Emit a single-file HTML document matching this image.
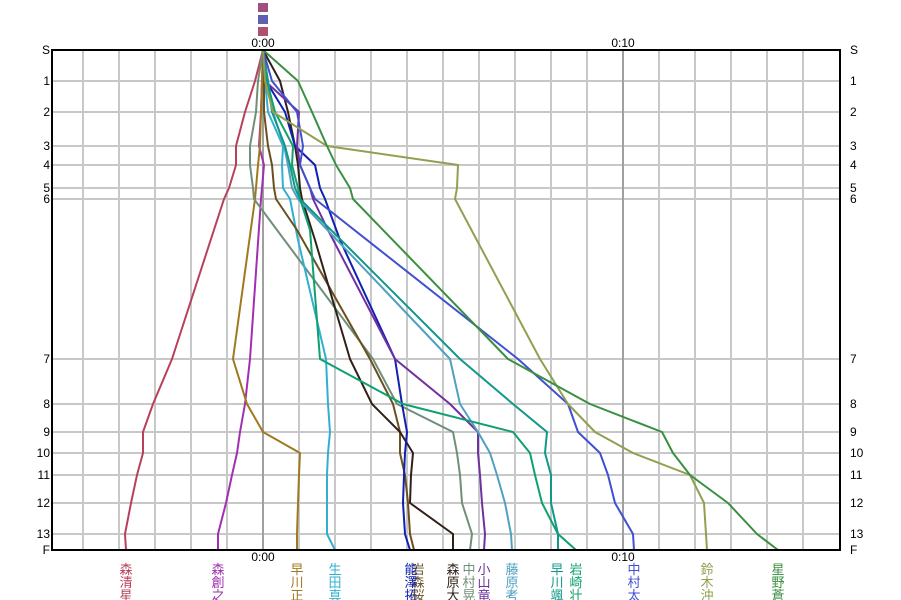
<!DOCTYPE html>
<html><head><meta charset="utf-8"><style>
html,body{margin:0;padding:0;background:#fff;}
svg{display:block;}
text{font-family:"Liberation Sans","Noto Sans CJK JP",sans-serif;}
</style></head><body>
<svg width="901" height="600" viewBox="0 0 901 600" xmlns="http://www.w3.org/2000/svg">
<g stroke="#c8c8c8" stroke-width="2">
<line x1="83" y1="50" x2="83" y2="550"/><line x1="119" y1="50" x2="119" y2="550"/><line x1="155" y1="50" x2="155" y2="550"/><line x1="191" y1="50" x2="191" y2="550"/><line x1="227" y1="50" x2="227" y2="550"/>
<line x1="299" y1="50" x2="299" y2="550"/><line x1="335" y1="50" x2="335" y2="550"/><line x1="371" y1="50" x2="371" y2="550"/><line x1="407" y1="50" x2="407" y2="550"/><line x1="443" y1="50" x2="443" y2="550"/><line x1="479" y1="50" x2="479" y2="550"/><line x1="515" y1="50" x2="515" y2="550"/><line x1="551" y1="50" x2="551" y2="550"/><line x1="587" y1="50" x2="587" y2="550"/>
<line x1="659" y1="50" x2="659" y2="550"/><line x1="695" y1="50" x2="695" y2="550"/><line x1="731" y1="50" x2="731" y2="550"/><line x1="767" y1="50" x2="767" y2="550"/><line x1="803" y1="50" x2="803" y2="550"/>
<line x1="52" y1="81" x2="840" y2="81"/><line x1="52" y1="112" x2="840" y2="112"/><line x1="52" y1="146" x2="840" y2="146"/><line x1="52" y1="165" x2="840" y2="165"/><line x1="52" y1="188" x2="840" y2="188"/><line x1="52" y1="199" x2="840" y2="199"/><line x1="52" y1="359" x2="840" y2="359"/><line x1="52" y1="404" x2="840" y2="404"/><line x1="52" y1="432" x2="840" y2="432"/><line x1="52" y1="453" x2="840" y2="453"/><line x1="52" y1="475" x2="840" y2="475"/><line x1="52" y1="503" x2="840" y2="503"/><line x1="52" y1="534" x2="840" y2="534"/>
</g>
<g stroke="#a0a0a0" stroke-width="2"><line x1="263" y1="50" x2="263" y2="550"/><line x1="623" y1="50" x2="623" y2="550"/></g>
<g fill="none" stroke-width="2" stroke-linejoin="round">
<polyline stroke="#b8405a" points="263,50 255,81 245,112 236,146 236,165 229,188 224,199 172,359 153,404 143,432 143,453 137,475 131,503 125,534 126,550"/>
<polyline stroke="#a030b0" points="263,50 262,81 261,112 259,146 264,165 262,188 261,199 250,359 245,404 240,432 237,453 232,475 226,503 218,534 218,550"/>
<polyline stroke="#a07820" points="263,50 262,81 261,112 260,146 258,165 256,188 255,199 233,359 247,404 263,432 300,453 299,475 298,503 297,534 297,550"/>
<polyline stroke="#708f78" points="263,50 258,81 256,112 250,146 250,165 253,188 254,199 277,230 373,359 397,404 453,432 457,453 460,475 462,503 472,534 470,550"/>
<polyline stroke="#30b0d0" points="263,50 265,81 268,112 283,146 282,165 283,188 290,199 298,240 326,359 328,404 330,432 328,453 327,475 327,503 327,534 335,550"/>
<polyline stroke="#6a5020" points="263,50 264,81 264,112 268,146 272,165 274,188 276,199 297,230 370,359 393,404 400,432 400,453 405,475 408,503 410,534 414,550"/>
<polyline stroke="#302018" points="263,50 280,81 288,112 295,146 298,165 300,188 302,199 315,240 350,359 372,404 400,432 413,453 411,475 410,503 453,534 453,550"/>
<polyline stroke="#1020b0" points="263,50 266,81 285,112 295,146 315,165 320,188 325,199 340,240 395,359 402,404 407,432 405,453 404,475 403,503 405,534 410,550"/>
<polyline stroke="#7030a0" points="263,50 265,81 299,112 297,146 300,165 310,188 313,199 328,230 395,359 450,404 478,432 478,453 480,475 482,503 485,534 484,550"/>
<polyline stroke="#50a0c0" points="263,50 268,81 273,112 284,146 288,165 292,188 298,199 450,359 460,404 478,432 490,453 497,475 505,503 511,534 512,550"/>
<polyline stroke="#10a070" points="263,50 267,81 275,112 293,146 292,165 298,188 300,199 310,230 320,359 403,404 513,432 530,453 535,475 542,503 558,534 576,550"/>
<polyline stroke="#109888" points="263,50 268,81 272,112 285,146 290,165 295,188 300,199 460,359 513,404 547,432 545,453 551,475 551,503 558,534 558,550"/>
<polyline stroke="#4050d0" points="263,50 272,81 297,112 303,146 300,165 310,188 315,199 518,359 568,404 578,432 600,453 608,475 615,503 633,534 634,550"/>
<polyline stroke="#90a050" points="263,50 265,81 273,112 327,146 458,165 457,188 455,199 540,359 568,404 595,432 633,453 690,475 704,503 706,534 707,550"/>
<polyline stroke="#3a9040" points="263,50 298,81 312,112 327,146 336,165 350,188 353,199 508,359 590,404 662,432 673,453 690,475 728,503 757,534 778,550"/>
</g>
<rect x="52" y="50" width="788" height="500" fill="none" stroke="#000" stroke-width="2"/>
<g font-size="12" fill="#000">
<text x="263" y="47" text-anchor="middle">0:00</text><text x="623" y="47" text-anchor="middle">0:10</text>
<text x="263" y="561" text-anchor="middle">0:00</text><text x="623" y="561" text-anchor="middle">0:10</text>
</g>
<g font-size="12" fill="#000" text-anchor="end">
<text x="50" y="54">S</text><text x="50" y="85">1</text><text x="50" y="116">2</text><text x="50" y="150">3</text><text x="50" y="169">4</text><text x="50" y="192">5</text><text x="50" y="203">6</text><text x="50" y="363">7</text><text x="50" y="408">8</text><text x="50" y="436">9</text><text x="50" y="457">10</text><text x="50" y="479">11</text><text x="50" y="507">12</text><text x="50" y="538">13</text><text x="50" y="554">F</text>
</g>
<g font-size="12" fill="#000">
<text x="850" y="54">S</text><text x="850" y="85">1</text><text x="850" y="116">2</text><text x="850" y="150">3</text><text x="850" y="169">4</text><text x="850" y="192">5</text><text x="850" y="203">6</text><text x="850" y="363">7</text><text x="850" y="408">8</text><text x="850" y="436">9</text><text x="850" y="457">10</text><text x="850" y="479">11</text><text x="850" y="507">12</text><text x="850" y="538">13</text><text x="850" y="554">F</text>
</g>
<g>
<rect x="258" y="3" width="10" height="9" fill="#a05080"/><rect x="258" y="15" width="10" height="9" fill="#6060b0"/><rect x="258" y="27" width="10" height="9" fill="#b05070"/>
</g>
<g font-size="13" text-anchor="middle">
<text x="126" y="574" fill="#b8405a">森</text><text x="126" y="587" fill="#b8405a">清</text><text x="126" y="600" fill="#b8405a">星</text>
<text x="218" y="574" fill="#a030b0">森</text><text x="218" y="587" fill="#a030b0">創</text><text x="218" y="600" fill="#a030b0">之</text>
<text x="297" y="574" fill="#a07820">早</text><text x="297" y="587" fill="#a07820">川</text><text x="297" y="600" fill="#a07820">正</text>
<text x="335" y="574" fill="#30b0d0">生</text><text x="335" y="587" fill="#30b0d0">田</text><text x="335" y="600" fill="#30b0d0">真</text>
<text x="418" y="574" fill="#6a5020">岩</text><text x="418" y="587" fill="#6a5020">森</text><text x="418" y="600" fill="#6a5020">桜</text>
<text x="411" y="574" fill="#1020b0">能</text><text x="411" y="587" fill="#1020b0">澤</text><text x="411" y="600" fill="#1020b0">拓</text>
<text x="453" y="574" fill="#302018">森</text><text x="453" y="587" fill="#302018">原</text><text x="453" y="600" fill="#302018">大</text>
<text x="469" y="574" fill="#708f78">中</text><text x="469" y="587" fill="#708f78">村</text><text x="469" y="600" fill="#708f78">晃</text>
<text x="484" y="574" fill="#7030a0">小</text><text x="484" y="587" fill="#7030a0">山</text><text x="484" y="600" fill="#7030a0">竜</text>
<text x="512" y="574" fill="#50a0c0">藤</text><text x="512" y="587" fill="#50a0c0">原</text><text x="512" y="600" fill="#50a0c0">考</text>
<text x="557" y="574" fill="#109888">早</text><text x="557" y="587" fill="#109888">川</text><text x="557" y="600" fill="#109888">颯</text>
<text x="576" y="574" fill="#10a070">岩</text><text x="576" y="587" fill="#10a070">崎</text><text x="576" y="600" fill="#10a070">壮</text>
<text x="634" y="574" fill="#4050d0">中</text><text x="634" y="587" fill="#4050d0">村</text><text x="634" y="600" fill="#4050d0">太</text>
<text x="707" y="574" fill="#90a050">鈴</text><text x="707" y="587" fill="#90a050">木</text><text x="707" y="600" fill="#90a050">沖</text>
<text x="778" y="574" fill="#3a9040">星</text><text x="778" y="587" fill="#3a9040">野</text><text x="778" y="600" fill="#3a9040">蒼</text>
</g>
</svg>
</body></html>
